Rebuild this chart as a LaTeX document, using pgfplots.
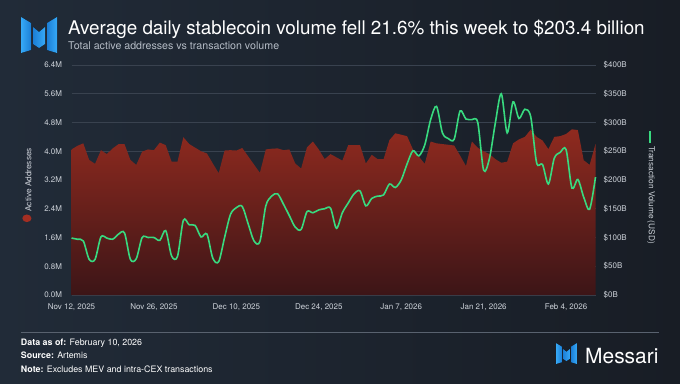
\documentclass[border=0pt]{standalone}
\usepackage{fontspec}
\setmainfont{TeX Gyre Heros}
\usepackage{pgfplots}
\usepackage{pgfplotstable}
\pgfplotsset{compat=1.18}
\definecolor{bgA}{HTML}{212B38}
\definecolor{bgB}{HTML}{181D25}
\definecolor{gridc}{HTML}{39424F}
\definecolor{redtop}{HTML}{8F2A1F}
\definecolor{redbot}{HTML}{3C1517}
\definecolor{reddot}{HTML}{A32E22}
\definecolor{greenc}{HTML}{38DA7F}
\definecolor{tickc}{HTML}{CDD2D9}
\definecolor{subc}{HTML}{B5BCC6}
\definecolor{logoA}{HTML}{36A9F7}
\definecolor{logoB}{HTML}{1C7FD6}
\definecolor{sepc}{HTML}{59626F}

\pgfplotstableread{
day addr
0 4.05
1 4.15
2 4.22
3 3.76
4 3.65
5 4.03
6 3.92
7 4.08
8 4.20
9 4.20
10 3.76
11 3.62
12 3.99
13 4.05
14 4.03
15 4.24
16 4.17
17 3.71
18 3.71
19 4.39
20 4.20
21 4.10
22 4.00
23 3.94
24 3.66
25 3.39
26 4.02
27 4.03
28 4.02
29 4.09
30 3.86
31 3.63
32 3.40
33 4.05
34 4.07
35 4.08
36 4.03
37 4.05
38 3.66
39 3.52
40 4.11
41 4.27
42 4.05
43 3.78
44 3.92
45 3.83
46 3.74
47 4.17
48 4.17
49 4.17
50 3.66
51 3.90
52 3.78
53 3.78
54 4.31
55 4.50
56 4.46
57 4.42
58 4.05
59 3.85
60 3.65
61 4.27
62 4.22
63 4.20
64 4.18
65 4.16
66 3.88
67 3.59
68 4.27
69 4.10
70 4.00
71 3.92
72 3.78
73 3.68
74 3.71
75 4.22
76 4.33
77 4.40
78 4.60
79 4.40
80 4.30
81 4.06
82 4.40
83 4.42
84 4.48
85 4.61
86 4.59
87 3.75
88 3.62
89 4.20
}\addrtable

\pgfplotstableread{
day vol
0 99
1 97
2 94
3 62
4 62
5 101
6 99
7 97
8 106
9 108
10 62
11 63
12 100
13 100
14 100
15 95
16 112
17 68
18 67
19 130
20 122
21 121
22 101
23 106
24 64
25 58
26 100
27 140
28 152
29 154
30 124
31 94
32 93
33 155
34 172
35 176
36 158
37 138
38 118
39 114
40 145
41 143
42 148
43 150
44 151
45 116
46 143
47 160
48 176
49 181
50 155
51 168
52 172
53 174
54 193
55 187
56 200
57 228
58 251
59 242
60 261
61 305
62 328
63 282
64 272
65 271
66 320
67 306
68 305
69 300
70 217
71 238
72 300
73 350
74 282
75 336
76 307
77 323
78 310
79 230
80 227
81 193
82 238
83 248
84 253
85 186
86 201
87 170
88 149
89 205
}\voltable

\newcommand{\messarilogo}[3]{%
\begin{scope}[shift={(#1,#2)}, scale=#3]
\fill[left color=logoA, right color=logoB] (0,36) -- (10,30) -- (10,3) -- (0,0) -- cycle;
\fill[left color=logoB, right color=logoA] (12,26) -- (18,21) -- (24,26) -- (24,9) -- (18,5) -- (12,9) -- cycle;
\fill[left color=logoB, right color=logoA] (26,30) -- (36,36) -- (36,0) -- (26,3) -- cycle;
\end{scope}}

\begin{document}
\begin{tikzpicture}[x=1bp,y=1bp]
\useasboundingbox (0,0) rectangle (680,383);
\shade[left color=bgA, right color=bgB] (0,0) rectangle (680,383);

% header
\messarilogo{21}{330}{1}
\node[anchor=base west, inner sep=0, text=white, font=\fontsize{18.9}{22}\selectfont] at (68,348.7) {Average daily stablecoin volume fell 21.6\% this week to \$203.4 billion};
\node[anchor=base west, inner sep=0, text=subc, font=\fontsize{10.7}{12}\selectfont] at (68,334) {Total active addresses vs transaction volume};

% footer
\draw[sepc, line width=0.8bp] (20.8,51) -- (659,51);
\node[anchor=base west, inner sep=0, text=white, font=\fontsize{8.9}{10}\selectfont] at (20.8,38) {\textbf{Data as of:} February 10, 2026};
\node[anchor=base west, inner sep=0, text=white, font=\fontsize{8.9}{10}\selectfont] at (20.8,24.7) {\textbf{Source:} Artemis};
\node[anchor=base west, inner sep=0, text=white, font=\fontsize{8.9}{10}\selectfont] at (20.8,10.3) {\textbf{Note:} Excludes MEV and intra-CEX transactions};
\messarilogo{556}{19}{0.58}
\node[anchor=base west, inner sep=0, text=white, font=\fontsize{21}{24}\selectfont] at (585,19.7) {Messari};

\begin{axis}[
  at={(71.5bp,88bp)}, anchor=origin,
  scale only axis, width=524bp, height=230bp,
  xmin=0, xmax=89, ymin=0, ymax=6.4,
  axis line style={draw=none},
  major tick length=0pt,
  xtick={0,14,28,42,56,70,84},
  xticklabels={{Nov 12, 2025},{Nov 26, 2025},{Dec 10, 2025},{Dec 24, 2025},{Jan 7, 2026},{Jan 21, 2026},{Feb 4, 2026}},
  ytick={0,0.8,1.6,2.4,3.2,4.0,4.8,5.6,6.4},
  yticklabels={0.0M,0.8M,1.6M,2.4M,3.2M,4.0M,4.8M,5.6M,6.4M},
  ymajorgrids, grid style={gridc, line width=0.6bp},
  tick label style={font=\fontsize{8}{9}\selectfont, text=tickc},
  yticklabel style={xshift=-6bp},
  xticklabel style={yshift=-5.5bp},
  clip=false,
]
\addplot[draw=none, top color=redtop, bottom color=redbot] table[x=day,y=addr]{\addrtable} \closedcycle;
\node[rotate=90, anchor=center, text=tickc, font=\fontsize{8.3}{9}\selectfont] at (rel axis cs:-0.085,0.478) {\tikz\fill[reddot] (0,0) ellipse (3.8bp and 4.6bp);\hspace{3bp}Active Addresses};
\end{axis}

\begin{axis}[
  at={(71.5bp,88bp)}, anchor=origin,
  scale only axis, width=524bp, height=230bp,
  xmin=0, xmax=89, ymin=0, ymax=400,
  axis x line=none, axis y line*=right,
  axis line style={draw=none},
  major tick length=0pt,
  ytick={0,50,100,150,200,250,300,350,400},
  yticklabels={\$0B,\$50B,\$100B,\$150B,\$200B,\$250B,\$300B,\$350B,\$400B},
  tick label style={font=\fontsize{8}{9}\selectfont, text=tickc},
  yticklabel style={anchor=west, xshift=4.7bp},
  clip=false,
]
\addplot[greenc, line width=1.6bp, smooth, tension=0.5] table[x=day,y=vol]{\voltable};
\node[rotate=-90, anchor=center, text=tickc, font=\fontsize{8.3}{9}\selectfont] at (rel axis cs:1.106,0.467) {\tikz\fill[greenc] (0,-0.9bp) rectangle (12bp,0.9bp);\hspace{3bp}Transaction Volume (USD)};
\end{axis}
\end{tikzpicture}
\end{document}
